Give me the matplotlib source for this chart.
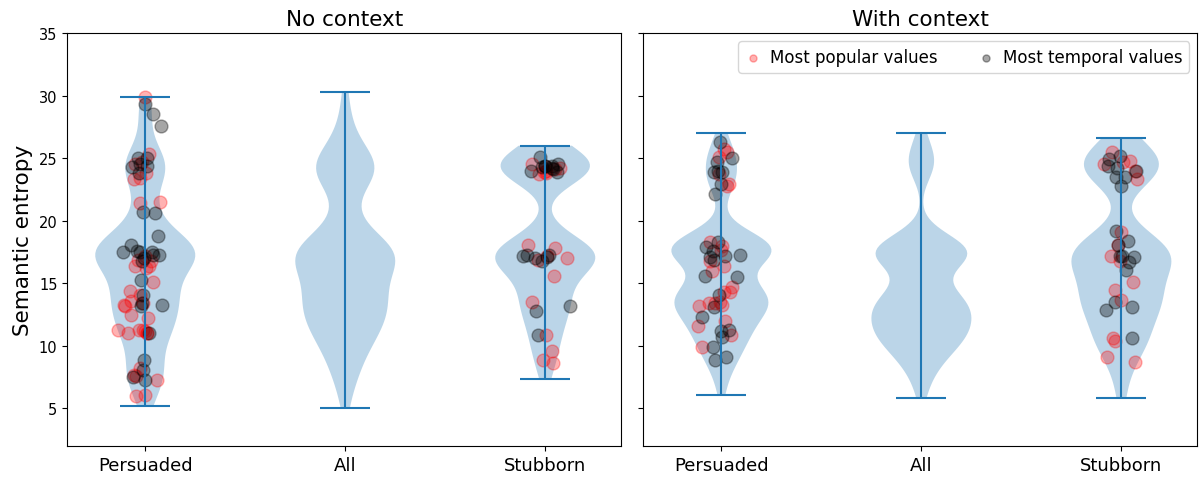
import matplotlib.pyplot as plt
import numpy as np

group_labels = ['Persuaded', 'All', 'Stubborn']
panel_titles = ['No context', 'With context']

# --- No context ---
nc_pers_pop = [29.9, 25.3, 24.7, 24.5, 23.4, 23.3, 23.8, 21.5, 21.4, 16.9, 16.8, 16.4, 16.2,
               16.4, 17.2, 15.1, 14.4, 14.1, 13.3, 13.6, 13.2, 13.4, 12.5, 12.2, 11.0, 11.3,
               11.3, 11.3, 11.2, 11.0, 11.0, 8.2, 7.7, 7.6, 7.3, 6.0, 6.1]
nc_pers_temp = [29.3, 28.5, 27.6, 25.0, 25.0, 24.5, 24.4, 24.3, 23.8, 20.7, 20.6, 18.8, 18.1,
                17.6, 17.5, 17.5, 17.5, 17.0, 17.3, 17.3, 16.8, 15.3, 14.1, 13.3, 13.2, 13.4,
                11.0, 8.9, 8.1, 7.5, 7.3]
nc_pers_other = [5.15, 17.5, 17.9, 18.1, 17.7, 17.0, 17.2, 17.4, 17.6, 17.8, 18.0, 18.3,
                 18.6, 19.0, 19.5, 14.5, 15.2, 12.0, 10.0, 9.0, 13.8, 14.8]

nc_stub_pop = [24.1, 23.7, 23.9, 24.3, 24.0, 24.5, 23.8, 24.2, 18.1, 17.8, 17.2, 16.9, 17.0,
               15.6, 13.5, 10.9, 9.6, 8.9, 8.6]
nc_stub_temp = [25.1, 24.5, 24.4, 24.4, 24.1, 24.3, 23.9, 24.4, 24.2, 24.0, 17.3, 17.3, 17.2,
                16.8, 17.0, 17.1, 13.2, 12.8, 10.9]
nc_stub_other = [7.35, 26.0, 25.3, 25.6, 25.9, 15.0, 15.5, 16.0, 16.4, 16.6, 16.8, 17.0,
                 17.4, 17.5, 17.8, 17.9, 18.2, 18.6, 19.2, 14.2, 14.6, 13.0, 12.0, 11.5,
                 12.5, 13.6, 14.0, 10.2]

nc_all = [5.05, 6.6, 7.3, 7.8, 8.3, 8.8, 9.2, 9.6, 9.9, 10.2, 10.5, 10.8, 10.9, 11.1, 11.3,
          11.5, 11.7, 11.9, 12.1, 12.3, 12.5, 12.7, 12.9, 12.95, 13.1, 13.3, 13.4, 13.5, 13.7,
          13.9, 14.1, 14.3, 14.5, 14.7, 14.9, 15.1, 15.3, 15.5, 15.7, 15.9, 16.1, 16.3, 16.5,
          16.6, 16.8, 16.9, 17.0, 17.1, 17.2, 17.3, 17.3, 17.4, 17.5, 17.6, 17.7, 17.8, 17.9,
          18.1, 18.3, 18.5, 18.7, 18.9, 19.3, 19.8, 20.6, 21.5, 22.4, 22.8, 23.2, 23.5, 23.7,
          23.9, 24.0, 24.1, 24.3, 24.4, 24.5, 24.7, 24.9, 25.2, 25.5, 25.8, 26.5, 27.4, 28.3,
          30.3]

# --- With context ---
wc_pers_pop = [25.7, 25.5, 25.1, 23.7, 22.9, 22.8, 18.3, 17.7, 18.0, 16.8, 16.4, 16.0, 14.7,
               14.3, 13.3, 13.4, 13.5, 13.2, 13.4, 12.0, 11.6, 10.9, 9.9, 14.3]
wc_pers_temp = [26.3, 25.0, 23.9, 23.9, 24.0, 22.1, 22.9, 24.7, 18.3, 17.9, 17.6, 17.3, 16.9,
                17.1, 17.2, 15.5, 15.6, 14.1, 13.1, 12.3, 11.3, 11.2, 10.7, 9.9, 9.1, 8.9]
wc_pers_other = [6.05, 7.2, 7.9, 8.4, 8.9, 9.4, 9.8, 10.3, 10.7, 11.0, 11.3, 11.6, 11.9,
                 12.2, 12.5, 12.7, 12.9, 13.0, 13.2, 13.3, 13.5, 13.6, 13.7, 13.8, 13.9, 14.0,
                 14.1, 14.2, 14.4, 14.6, 14.8, 15.0, 17.0, 17.2, 17.3, 17.4, 17.5, 17.6, 17.7,
                 17.8, 17.9, 18.0, 18.1, 18.2, 18.3, 18.4, 18.5, 18.7, 19.0, 27.05,
                 17.65, 17.85, 18.05, 18.25]

wc_stub_pop = [25.5, 24.8, 24.7, 24.5, 24.0, 23.3, 19.1, 18.1, 16.8, 17.2, 15.1, 14.5, 13.7,
               10.6, 10.4, 9.1, 8.7]
wc_stub_temp = [25.2, 24.9, 24.4, 24.0, 23.5, 23.5, 22.8, 24.2, 19.2, 18.4, 18.1, 17.2, 17.2,
                17.1, 16.7, 16.1, 13.5, 12.9, 13.1, 10.6]
wc_stub_other = [5.8, 26.65, 26.2, 25.8, 7.5, 9.5, 10.5, 11.0, 11.5, 12.0, 12.4, 12.8, 13.2,
                 13.6, 14.0, 14.4, 14.8, 15.2, 15.6, 16.0, 16.4, 16.8, 17.2, 17.6, 18.0, 18.5]

wc_all = [5.8, 6.6, 7.3, 7.8, 8.1, 8.4, 8.7, 8.9, 9.1, 9.3, 9.5, 9.7, 9.85, 9.95, 10.05,
          10.2, 10.3, 10.4, 10.5, 10.6, 10.7, 10.8, 10.9, 11.0, 11.1, 11.2, 11.3, 11.4, 11.5,
          11.6, 11.7, 11.8, 11.9, 12.0, 12.1, 12.2, 12.3, 12.4, 12.5, 12.6, 12.7, 12.8, 12.9,
          13.0, 13.1, 13.2, 13.3, 13.35, 13.4, 13.5, 13.6, 13.7, 13.8, 13.9, 14.0, 14.1, 14.25,
          14.4, 14.55, 14.7, 14.85, 15.3, 16.0, 16.4, 16.6, 16.75, 16.85, 16.95, 17.0, 17.05,
          17.1, 17.2, 17.25, 17.3, 17.4, 17.45, 17.5, 17.6, 17.7, 17.8, 17.9, 18.0, 18.1, 18.3,
          18.5, 18.7, 19.1, 23.6, 24.0, 24.3, 24.5, 24.7, 24.9, 25.2, 25.6, 26.3, 27.05,
          17.15, 17.35, 17.55, 17.75, 17.95, 18.2]

panels = [
    (nc_pers_pop, nc_pers_temp, nc_pers_other, nc_all, nc_stub_pop, nc_stub_temp, nc_stub_other),
    (wc_pers_pop, wc_pers_temp, wc_pers_other, wc_all, wc_stub_pop, wc_stub_temp, wc_stub_other),
]

rng = np.random.default_rng(7)

fig, axes = plt.subplots(1, 2, figsize=(12.01, 4.81), dpi=100, sharey=True)
fig.subplots_adjust(left=0.056, right=0.997, top=0.929, bottom=0.071, wspace=0.04)

for ax, title, (p_pop, p_temp, p_oth, all_v, s_pop, s_temp, s_oth) in zip(axes, panel_titles, panels):
    pers = p_pop + p_temp + p_oth
    stub = s_pop + s_temp + s_oth
    ax.violinplot([pers, all_v, stub], positions=[1, 2, 3], bw_method=0.27)

    for pos, vals in [(1, p_pop), (3, s_pop)]:
        x = pos + rng.normal(0, 0.055, len(vals))
        ax.scatter(x, vals, s=85, color='red', alpha=0.3, label='Most popular values' if pos == 1 else None)
    for pos, vals in [(1, p_temp), (3, s_temp)]:
        x = pos + rng.normal(0, 0.055, len(vals))
        ax.scatter(x, vals, s=85, color='black', alpha=0.35, label='Most temporal values' if pos == 1 else None)

    ax.set_title(title, fontsize=15.5)
    ax.set_xticks([1, 2, 3])
    ax.set_xticklabels(group_labels, fontsize=13)
    ax.set_xlim(0.61, 3.38)
    ax.tick_params(axis='y', labelsize=10.5)

axes[0].set_ylim(2, 35)
axes[0].set_ylabel('Semantic entropy', fontsize=15.5)
axes[1].legend(loc='upper right', ncol=2, fontsize=12, markerscale=0.55,
               handlelength=1.0, handletextpad=0.5, columnspacing=2.4)

plt.savefig('out.png')
